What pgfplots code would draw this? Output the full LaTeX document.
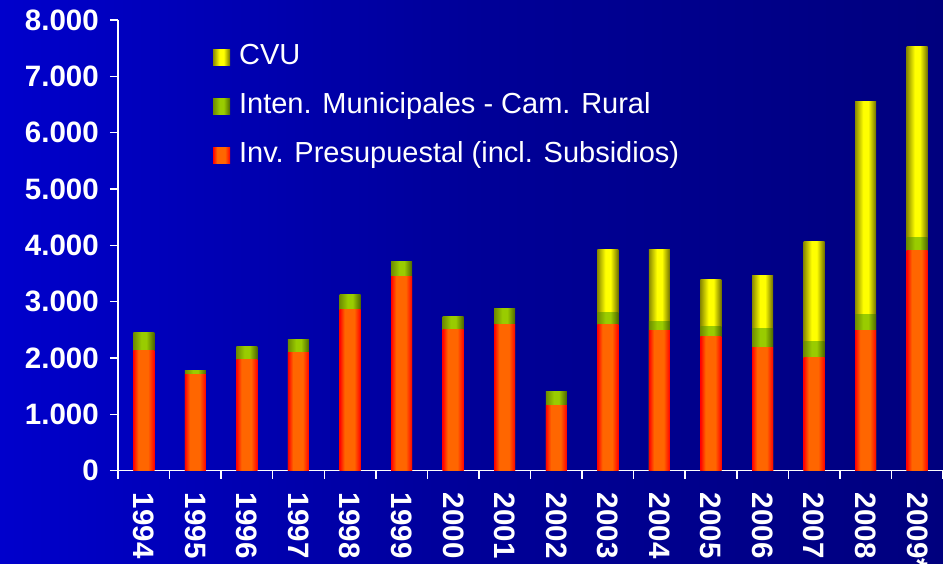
\documentclass[border=0pt]{standalone}
\usepackage{fontspec}
\setmainfont{Liberation Sans}
\usepackage{pgfplots}
\usepackage{pgfplotstable}
\pgfplotsset{compat=1.18}
\definecolor{bgL}{RGB}{0,0,204}
\definecolor{bgM}{RGB}{0,0,152}
\definecolor{bgR}{RGB}{0,0,126}
\definecolor{barRed}{RGB}{255,0,0}
\definecolor{barOrange}{RGB}{255,102,0}
\definecolor{grL}{RGB}{110,140,0}
\definecolor{grLight}{RGB}{153,204,0}
\definecolor{grR}{RGB}{77,102,0}
\definecolor{yeL}{RGB}{140,140,0}
\definecolor{yeLight}{RGB}{255,255,0}
\definecolor{yeR}{RGB}{110,110,0}
\pgfdeclarehorizontalshading{bgshade}{100bp}{color(0bp)=(bgL); color(25bp)=(bgL); color(50bp)=(bgM); color(75bp)=(bgR); color(100bp)=(bgR)}
\pgfdeclarehorizontalshading{redbar}{100bp}{color(0bp)=(barRed); color(25bp)=(barRed); color(37bp)=(barOrange); color(60bp)=(barOrange); color(75bp)=(barRed); color(100bp)=(barRed)}
\pgfdeclarehorizontalshading{grbar}{100bp}{color(0bp)=(grL); color(25bp)=(grL); color(44bp)=(grLight); color(56bp)=(grLight); color(75bp)=(grR); color(100bp)=(grR)}
\pgfdeclarehorizontalshading{yebar}{100bp}{color(0bp)=(yeL); color(25bp)=(yeL); color(44bp)=(yeLight); color(56bp)=(yeLight); color(75bp)=(yeR); color(100bp)=(yeR)}
\pgfplotstableread{
x inv inten cvu
0 2125 335 0
1 1700 70 0
2 1965 245 0
3 2090 230 0
4 2870 260 0
5 3440 280 0
6 2515 230 0
7 2600 285 0
8 1165 235 0
9 2600 200 1120
10 2495 160 1275
11 2390 175 830
12 2185 340 940
13 2005 290 1775
14 2495 280 3785
15 3900 240 3395
}\datatable
\begin{document}
\begin{tikzpicture}[x=1pt,y=1pt]
\useasboundingbox (0,0) rectangle (943,564);
\shade[shading=bgshade] (0,0) rectangle (943,564);
\begin{axis}[
  at={(118pt,93.3pt)}, anchor=south west,
  width=825pt, height=450.7pt, scale only axis,
  xmin=-0.5, xmax=15.5, ymin=0, ymax=8000,
  ybar, bar width=21pt,
  axis x line*=bottom, axis y line*=left,
  axis line style={white, line width=1.5pt, -},
  tick align=outside,
  major tick length=8pt, minor tick length=8pt,
  ytick={0,1000,...,8000},
  y tick style={white, line width=1.5pt},
  xtick={0,...,15},
  xticklabels={1994,1995,1996,1997,1998,1999,2000,2001,2002,2003,2004,2005,2006,2007,2008,2009*},
  x tick style={draw=none},
  minor xtick={-0.5,0.5,...,15.5},
  minor x tick style={draw=white, line width=1.5pt},
  scaled y ticks=false,
  /pgf/number format/assume math mode=true,
  /pgf/number format/1000 sep={.},
  ticklabel style={text=white, font=\bfseries\fontsize{29.5}{29.5}\selectfont, inner sep=0pt},
  yticklabel style={xshift=-11pt},
  xticklabel style={rotate=-90, anchor=west},
  xticklabel shift=14pt,
  legend cell align=left,
  legend image code/.code={\path[#1] (0pt,-8.5pt) rectangle (17pt,8pt);},
  legend style={at={(rel axis cs:0.115,0.948)}, anchor=north west,
    draw=none, fill=none, text=white, inner sep=0pt,
    font=\fontsize{29}{29}\selectfont,
    nodes={inner sep=0pt, text height=21pt, text depth=6pt},
    row sep=22pt, column sep=9pt},
]
\addlegendimage{draw=none, shade, shading=yebar}
\addlegendentry{CVU}
\addlegendimage{draw=none, shade, shading=grbar}
\addlegendentry{Inten. Municipales - Cam. Rural}
\addlegendimage{draw=none, shade, shading=redbar}
\addlegendentry{Inv. Presupuestal (incl. Subsidios)}
% CVU on top (total height), only years with CVU
\pgfplotsinvokeforeach{9,...,15}{
  \addplot[forget plot, bar shift=0pt, draw=none, shade, shading=yebar, restrict x to domain=#1:#1]
    table[x=x, y expr=\thisrow{inv}+\thisrow{inten}+\thisrow{cvu}] {\datatable};
}
% Intendencias Municipales - Caminería Rural (stacked on Inv.)
\pgfplotsinvokeforeach{0,...,15}{
  \addplot[forget plot, bar shift=0pt, draw=none, shade, shading=grbar, restrict x to domain=#1:#1]
    table[x=x, y expr=\thisrow{inv}+\thisrow{inten}] {\datatable};
}
% Inversión Presupuestal
\pgfplotsinvokeforeach{0,...,15}{
  \addplot[forget plot, bar shift=0pt, draw=none, shade, shading=redbar, restrict x to domain=#1:#1]
    table[x=x, y=inv] {\datatable};
}
\end{axis}
\end{tikzpicture}
\end{document}
